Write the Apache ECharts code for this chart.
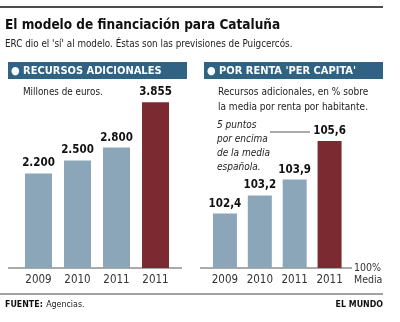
<!DOCTYPE html>
<html><head><meta charset="utf-8">
<script src="https://cdn.jsdelivr.net/npm/echarts@6/dist/echarts.min.js"></script>
<style>html,body{margin:0;padding:0;background:#fff}#c{width:400px;height:322px}</style>
</head><body><div id="c"></div>
<script>
var categories = ['2009', '2010', '2011', '2011'];
var recursos = [2200, 2500, 2800, 3855];
var renta = [102.4, 103.2, 103.9, 105.6];

var BLUE = '#8ba6b9', RED = '#7b2a31', HEAD = '#2f6283';
var F = '"Liberation Sans Narrow", "DejaVu Sans Condensed", sans-serif';
function es(v, d) {
  var s = v.toFixed(d).replace('.', ',');
  var p = s.split(',');
  p[0] = p[0].replace(/\B(?=(\d{3})+(?!\d))/g, '.');
  return p.join(',');
}
function colored(arr) {
  return arr.map(function (v, i) {
    return { value: v, itemStyle: { color: i === arr.length - 1 ? RED : BLUE } };
  });
}
function T(x, y, text, font, fill, extra) {
  var st = Object.assign({ text: text, font: font + ' ' + F, fill: fill || '#222', verticalAlign: 'middle', align: 'left' }, extra || {});
  return { type: 'text', x: x, y: y, style: st };
}
var chart = echarts.init(document.getElementById('c'));
var lab = { show: true, position: 'top', distance: 4, fontFamily: F, fontWeight: 'bold', fontSize: 11.5, color: '#111' };
var xa = { type: 'category', data: categories, axisLine: { show: false }, axisTick: { show: false },
  axisLabel: { interval: 0, fontFamily: F, fontSize: 11.5, color: '#333', margin: 6 } };
chart.setOption({
  animation: false,
  grid: [
    { left: 19, width: 156, top: 96, bottom: 54 },
    { left: 207.5, width: 139.5, top: 132, bottom: 54 }
  ],
  xAxis: [Object.assign({ gridIndex: 0 }, xa), Object.assign({ gridIndex: 1 }, xa)],
  yAxis: [
    { gridIndex: 0, min: 0, max: 4000, show: false },
    { gridIndex: 1, min: 100, max: 106, show: false }
  ],
  series: [
    { type: 'bar', xAxisIndex: 0, yAxisIndex: 0, barWidth: 27, data: colored(recursos),
      label: Object.assign({}, lab, { formatter: function (p) { return es(p.value, 0); } }) },
    { type: 'bar', xAxisIndex: 1, yAxisIndex: 1, barWidth: 24, data: colored(renta),
      label: Object.assign({}, lab, { formatter: function (p) { return es(p.value, 1); } }) }
  ],
  graphic: [
    { type: 'line', shape: { x1: 0, y1: 7, x2: 383, y2: 7 }, style: { stroke: '#111', lineWidth: 1.5 } },
    T(5, 25, 'El modelo de financiación para Cataluña', 'bold 13.5px', '#111'),
    T(5, 44, "ERC dio el 'sí' al modelo. Éstas son las previsiones de Puigcercós.", '9.8px', '#222'),
    { type: 'rect', shape: { x: 8, y: 62, width: 179, height: 17 }, style: { fill: HEAD } },
    T(11, 71, '● RECURSOS ADICIONALES', 'bold 11px', '#fff'),
    { type: 'rect', shape: { x: 204, y: 62, width: 179, height: 17 }, style: { fill: HEAD } },
    T(207, 71, "● POR RENTA 'PER CAPITA'", 'bold 11px', '#fff'),
    T(23, 92, 'Millones de euros.', '9.8px', '#222'),
    T(218, 92, 'Recursos adicionales, en % sobre', '10px', '#222'),
    T(218, 107, 'la media por renta por habitante.', '10px', '#222'),
    T(217, 125, '5 puntos', 'italic 10px', '#222'),
    T(217, 139, 'por encima', 'italic 10px', '#222'),
    T(217, 153, 'de la media', 'italic 10px', '#222'),
    T(217, 167, 'española.', 'italic 10px', '#222'),
    { type: 'line', shape: { x1: 270, y1: 132, x2: 310, y2: 132 }, style: { stroke: '#555', lineWidth: 1 } },
    { type: 'line', shape: { x1: 8, y1: 268, x2: 182, y2: 268 }, style: { stroke: '#555', lineWidth: 1 } },
    { type: 'line', shape: { x1: 200, y1: 268, x2: 352, y2: 268 }, style: { stroke: '#555', lineWidth: 1 } },
    T(354, 268, '100%', '10.5px', '#333'),
    T(354, 280, 'Media', '10.5px', '#333'),
    { type: 'line', shape: { x1: 0, y1: 294, x2: 383, y2: 294 }, style: { stroke: '#444', lineWidth: 1 } },
    { type: 'text', x: 5, y: 305, style: { verticalAlign: 'middle', rich: { b: { font: 'bold 8.8px ' + F, fill: '#111' }, n: { font: '8.8px ' + F, fill: '#222' } }, text: '{b|FUENTE:} {n|Agencias.}' } },
    T(383, 305, 'EL MUNDO', 'bold 8.8px', '#111', { align: 'right' })
  ]
});
</script></body></html>
